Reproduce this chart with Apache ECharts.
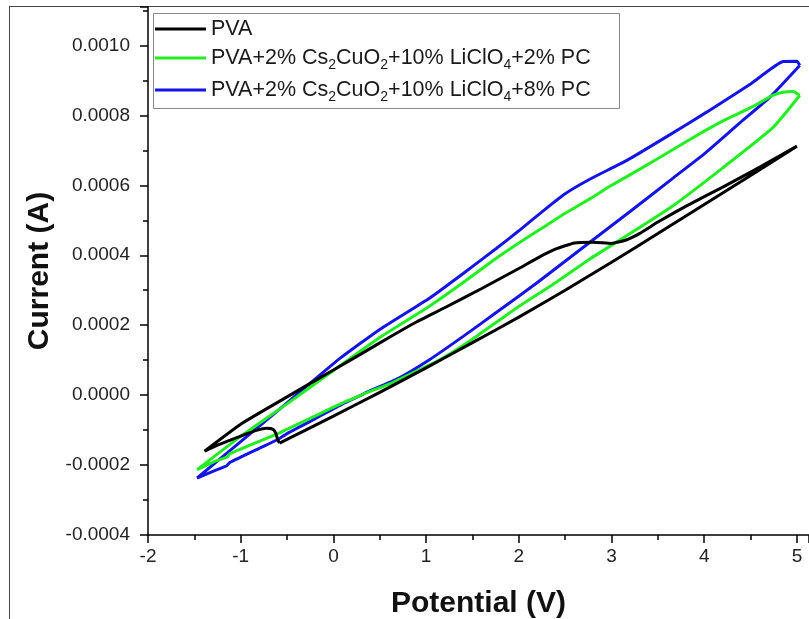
<!DOCTYPE html>
<html>
<head>
<meta charset="utf-8">
<script src="https://cdn.jsdelivr.net/npm/echarts@6/dist/echarts.min.js"></script>
<style>
html,body{margin:0;padding:0;background:#fff;}
#c{width:809px;height:619px;}
</style>
</head>
<body>
<div id="c"></div>
<script>
// ---- data (Potential V, Current A), in scan order ----
const pvaX = [-0.58,-0.3,0,0.5,1.0,1.5,2.0,2.5,3.0,3.5,4.0,4.5,5.0,
  4.6,4.2,3.8,3.5,3.3,3.15,3.0,2.8,2.6,2.4,2.2,2.0,1.6,1.2,0.9,0.6,0.3,0.0,-0.5,-1.0,-1.39,
  -1.25,-1.0,-0.82,-0.72,-0.65,-0.62,-0.60,-0.58];
const pvaY = [-0.000137,-0.000100,-0.000060,0.000008,0.000078,0.000150,0.000223,0.000300,0.000380,0.000462,0.000545,0.000628,0.000712,
  0.000652,0.000595,0.000540,0.000495,0.000462,0.000443,0.000434,0.000437,0.000435,0.000418,0.000392,0.000362,0.000305,0.000250,0.000210,0.000165,0.000118,0.000072,-0.000005,-0.000083,-0.000160,
  -0.000143,-0.000117,-0.000100,-0.000095,-0.000098,-0.000110,-0.000128,-0.000137];

const pc2X = [5.03,4.96,4.85,4.74,4.5,4.245,4.0,3.7,3.31,3.0,2.77,2.5,2.3,2.0,1.76,1.4,1.04,0.5,0.18,0,-0.5,-1.0,-1.47,
  -1.3,-1.14,-1.12,-0.8,-0.58,-0.52,-0.2,0.1,0.3,0.33,0.64,1.15,1.5,1.98,2.4,2.77,3.2,3.66,4.2,4.74,5.03];
const pc2Y = [0.000857,0.000868,0.000866,0.000857,0.000822,0.000790,0.000755,0.000708,0.000647,0.000600,0.000562,0.000520,0.000486,0.000435,0.000392,0.000322,0.000255,0.000165,0.000105,0.000070,-0.000025,-0.000118,-0.000213,
  -0.000192,-0.000176,-0.000168,-0.000132,-0.000108,-0.000100,-0.000060,-0.000022,0.000000,0.000004,0.000036,0.000102,0.000160,0.000250,0.000322,0.000390,0.000462,0.000541,0.000650,0.000765,0.000857];

const pc8X = [5.03,5.0,4.85,4.5,4.03,3.6,3.17,2.77,2.5,2.3,2.0,1.76,1.4,1.04,0.5,0.07,-0.5,-1.0,-1.47,
  -1.3,-1.15,-1.12,-0.8,-0.6,-0.5,-0.2,0.1,0.3,0.34,0.7,1.04,1.4,1.76,2.2,2.77,3.2,3.66,4.0,4.39,4.7,5.03];
const pc8Y = [0.000943,0.000955,0.000954,0.000890,0.000810,0.000740,0.000672,0.000618,0.000576,0.000535,0.000470,0.000420,0.000348,0.000278,0.000188,0.000105,-0.000022,-0.000133,-0.000237,
  -0.000218,-0.000202,-0.000193,-0.000152,-0.000127,-0.000110,-0.000068,-0.000025,0.000000,0.000006,0.000048,0.000102,0.000168,0.000237,0.000322,0.000438,0.000525,0.000620,0.000690,0.000780,0.000850,0.000943];

const seriesNames = ['PVA','PVA+2% Cs2CuO2+10% LiClO4+2% PC','PVA+2% Cs2CuO2+10% LiClO4+8% PC'];
const seriesColors = ['#000000','#22ee22','#1414e6'];
const xTickLabels = ['-2','-1','0','1','2','3','4','5'];

function pairs(xs, ys){ return xs.map((x,i)=>[x, ys[i]]); }

const FONT = 'Liberation Sans, Arial, sans-serif';
const chart = echarts.init(document.getElementById('c'), null, {renderer:'canvas'});

function legendFmt(name){
  if (name === 'PVA') return '{t|PVA}';
  const m = name.match(/(\d)% PC$/);
  return '{t|PVA+2% Cs}{s|2}{t|CuO}{s|2}{t|+10% LiClO}{s|4}{t|+' + m[1] + '% PC}';
}

const dataSets = [pairs(pvaX,pvaY), pairs(pc2X,pc2Y), pairs(pc8X,pc8Y)];

chart.setOption({
  animation:false,
  backgroundColor:'#ffffff',
  grid:{left:148, top:7, right:0, bottom:84, containLabel:false, outerBoundsMode:'none'},
  xAxis:{
    type:'value', min:-2, max:5.13, interval:1,
    axisLine:{show:true, onZero:false, lineStyle:{color:'#000', width:1.5}},
    axisTick:{show:true, inside:false, length:8, lineStyle:{color:'#000', width:1.5}},
    minorTick:{show:true, splitNumber:2, length:5, lineStyle:{color:'#000', width:1.5}},
    splitLine:{show:false},
    axisLabel:{showMaxLabel:false, color:'#222', fontFamily:FONT, fontSize:19, margin:12,
      formatter:function(v){ const i = Math.round(v)+2; return (Math.abs(v-Math.round(v))<1e-9 && xTickLabels[i]!==undefined) ? xTickLabels[i] : ''; }},
    name:'Potential (V)', nameLocation:'middle', nameGap:54,
    nameTextStyle:{color:'#111', fontFamily:FONT, fontSize:30, fontWeight:'bold'}
  },
  yAxis:{
    type:'value', min:-0.0004, max:0.00111, interval:0.0002,
    axisLine:{show:true, onZero:false, lineStyle:{color:'#000', width:1.5}},
    axisTick:{show:true, inside:false, length:8, lineStyle:{color:'#000', width:1.5}},
    minorTick:{show:true, splitNumber:2, length:5, lineStyle:{color:'#000', width:1.5}},
    splitLine:{show:false},
    axisLabel:{showMaxLabel:false, color:'#222', fontFamily:FONT, fontSize:19, margin:18,
      formatter:function(v){ return v.toFixed(4); }},
    name:'Current (A)', nameLocation:'middle', nameGap:92, nameRotate:90,
    nameTextStyle:{color:'#111', fontFamily:FONT, fontSize:30, fontWeight:'bold'}
  },
  legend:{
    orient:'vertical', left:155, top:18, z:20,
    padding:0, itemGap:7,
    icon:'rect', itemWidth:51, itemHeight:3,
    formatter:legendFmt,
    textStyle:{color:'#1a1a1a', fontFamily:FONT,
      rich:{ t:{fontSize:21.5, fontFamily:FONT, color:'#1a1a1a', lineHeight:24, verticalAlign:'middle'},
             s:{fontSize:14, fontFamily:FONT, color:'#1a1a1a', lineHeight:28, verticalAlign:'bottom'} }},
    data:seriesNames
  },
  graphic:[
    {type:'line', shape:{x1:9.5, y1:7, x2:9.5, y2:619}, style:{stroke:'#444', lineWidth:1}, silent:true},
    {type:'line', shape:{x1:9, y1:6.5, x2:809, y2:6.5}, style:{stroke:'#444', lineWidth:1}, silent:true},
    {type:'rect', shape:{x:153.5, y:13.5, width:466, height:95}, style:{fill:'#fff', stroke:'#888', lineWidth:1}, silent:true, z:5}
  ],
  series: seriesNames.map((n,i)=>({
    name:n, type:'line', data:dataSets[i], showSymbol:false, smooth:0.15,
    lineStyle:{color:seriesColors[i], width:3}, itemStyle:{color:seriesColors[i]}, z:3-i
  }))
});
</script>
</body>
</html>
